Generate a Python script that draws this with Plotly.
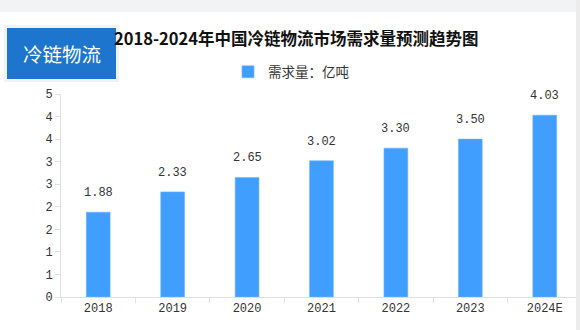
import plotly.graph_objects as go

categories = ["2018", "2019", "2020", "2021", "2022", "2023", "2024E"]
demand = [1.88, 2.33, 2.65, 3.02, 3.30, 3.50, 4.03]
y_tick_values = [0, 0.5, 1, 1.5, 2, 2.5, 3, 3.5, 4, 4.5]
y_tick_labels = ["0", "1", "1", "2", "2", "3", "3", "4", "4", "5"]
title_text = "2018-2024年中国冷链物流市场需求量预测趋势图"
badge_text = "冷链物流"
series_name = "需求量：亿吨"

W, H = 580, 330
L, R, T, B = 61, 4, 94, 33
pw = W - L - R
ph = H - T - B


def px(x):
    return (x - L) / pw


def py(y):
    return (H - B - y) / ph


num_font = dict(family="Liberation Mono, monospace", size=12, color="#333333")
cjk = "Noto Sans CJK SC, sans-serif"

fig = go.Figure()
fig.add_trace(go.Bar(
    x=categories, y=demand, name=series_name, width=0.32,
    marker=dict(color="#409EFF", line=dict(color="#6fb5ff", width=0.6)),
    hoverinfo="x+y",
))

annotations = []
for i, v in enumerate(demand):
    annotations.append(dict(x=i, y=v, xref="x", yref="y", text=f"{v:.2f}",
                            showarrow=False, yanchor="bottom", yshift=10,
                            font=num_font))

annotations.append(dict(x=px(296), y=py(38), xref="paper", yref="paper",
                        text="<b>" + title_text + "</b>", showarrow=False,
                        xanchor="center", yanchor="middle",
                        font=dict(family=cjk, size=16.5, color="#111111")))
annotations.append(dict(x=px(61.5), y=py(53.5), xref="paper", yref="paper",
                        text=badge_text, showarrow=False,
                        xanchor="center", yanchor="middle",
                        font=dict(family=cjk, size=19.5, color="#ffffff")))

shapes = [
    dict(type="rect", xref="paper", yref="paper", x0=px(0), x1=px(580),
         y0=py(0), y1=py(12), fillcolor="#f2f3f5", line=dict(width=0), layer="below"),
    dict(type="rect", xref="paper", yref="paper", x0=px(576), x1=px(580),
         y0=py(0), y1=py(330), fillcolor="#ececec", line=dict(width=0)),
    dict(type="rect", xref="paper", yref="paper", x0=px(4), x1=px(119),
         y0=py(82), y1=py(25), fillcolor="rgba(0,0,0,0.05)", line=dict(width=0)),
    dict(type="rect", xref="paper", yref="paper", x0=px(7), x1=px(116),
         y0=py(79), y1=py(28), fillcolor="#1d75cd", line=dict(width=0)),
]

fig.update_layout(
    width=W, height=H,
    margin=dict(l=L, r=R, t=T, b=B, pad=0),
    paper_bgcolor="#ffffff", plot_bgcolor="#ffffff",
    showlegend=True,
    legend=dict(orientation="h", x=px(291), xanchor="center", y=py(72), yanchor="middle",
                font=dict(family=cjk, size=13.5, color="#333333"),
                itemwidth=30, bgcolor="rgba(0,0,0,0)"),
    annotations=annotations,
    shapes=shapes,
    xaxis=dict(type="category", range=[-0.5, 6.42], showline=True, linecolor="#e0e0e0",
               linewidth=1, ticks="outside", tickson="boundaries", ticklen=5,
               tickcolor="#e0e0e0", tickfont=num_font, showgrid=False, fixedrange=True),
    yaxis=dict(range=[0, 4.5], tickvals=y_tick_values, ticktext=y_tick_labels,
               showline=True, linecolor="#e0e0e0", linewidth=1, ticks="outside",
               ticklen=5, tickcolor="#e0e0e0", tickfont=num_font, showgrid=False,
               zeroline=False, fixedrange=True),
)

fig.write_html("out.html")
